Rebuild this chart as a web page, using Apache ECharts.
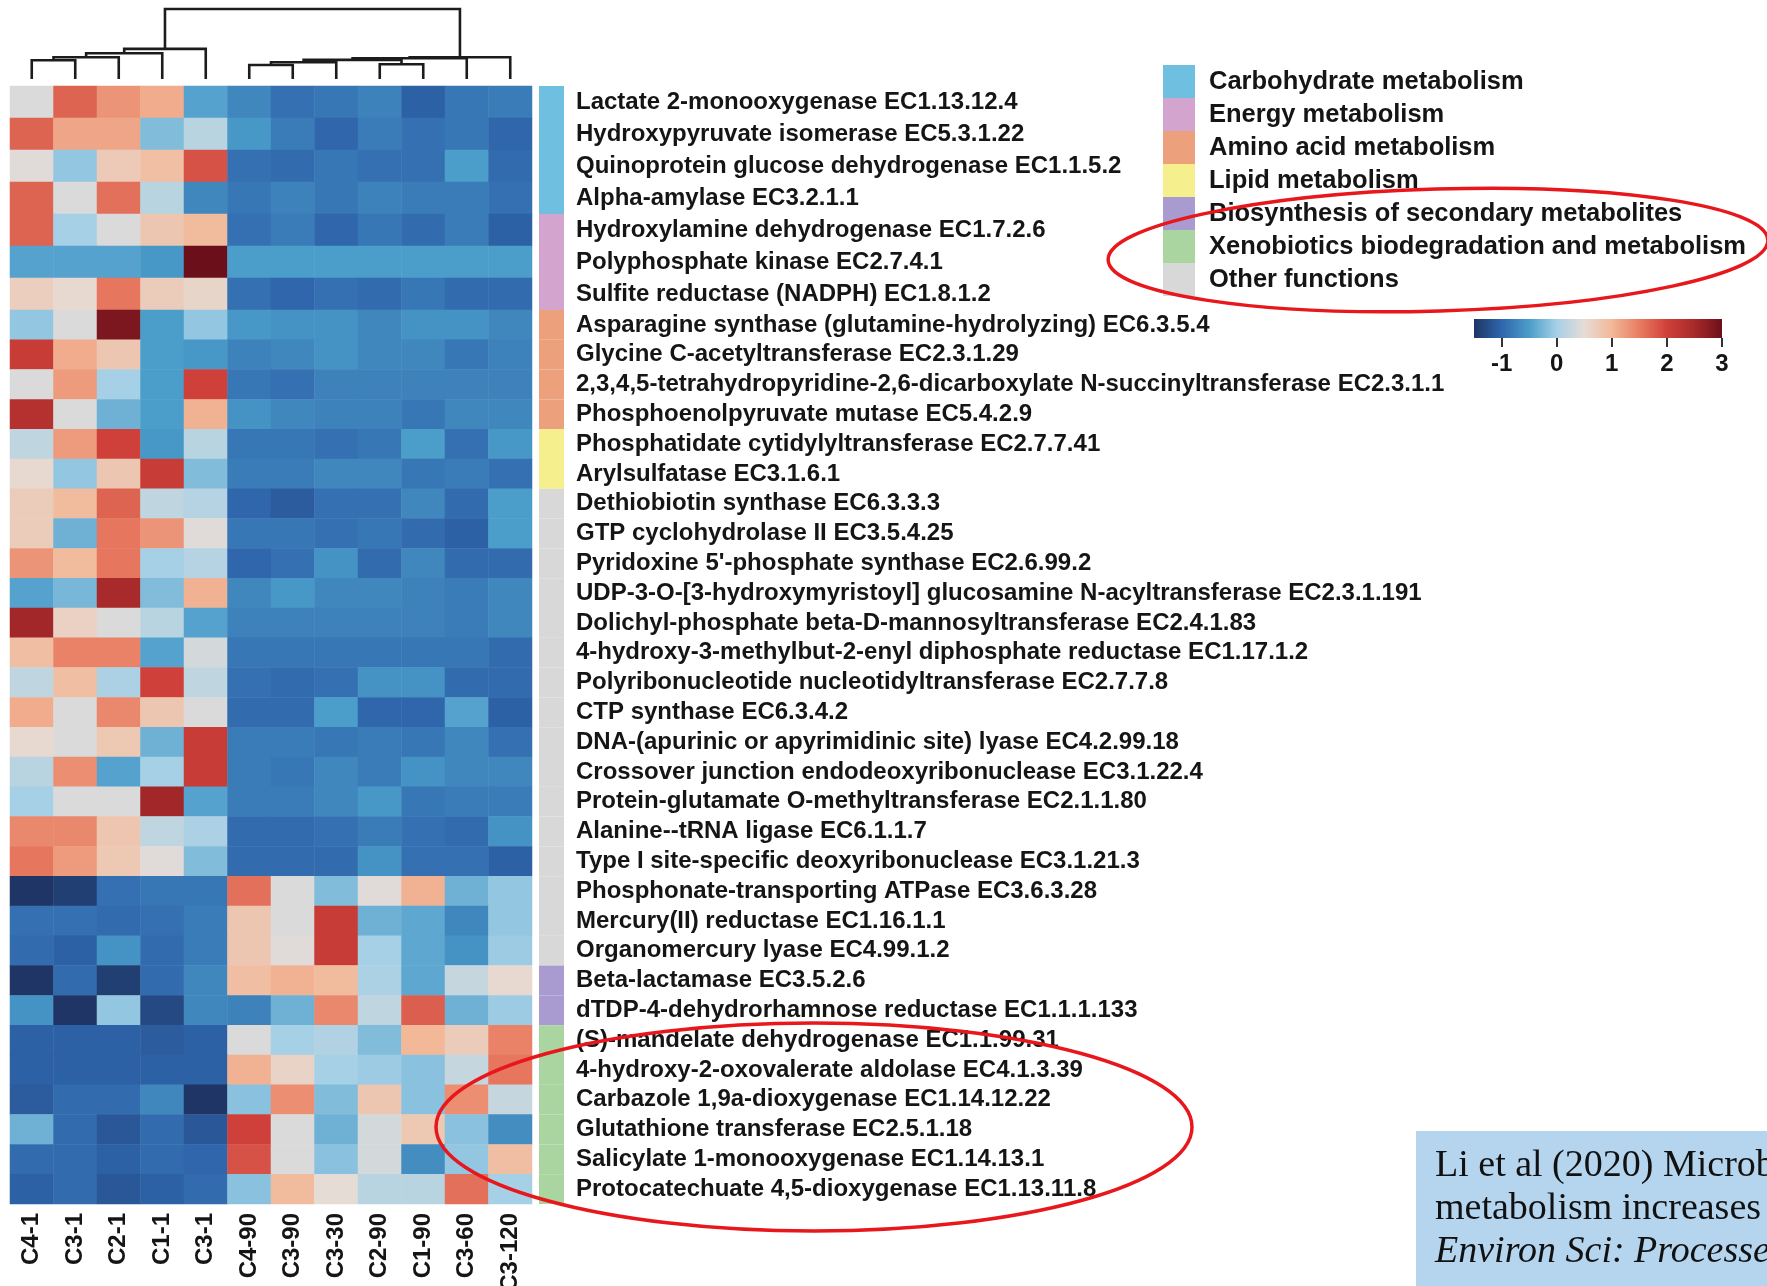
<!DOCTYPE html>
<html><head><meta charset="utf-8">
<script src="https://cdn.jsdelivr.net/npm/echarts@6/dist/echarts.min.js"></script>
<style>html,body{margin:0;padding:0;background:#fff}#c{width:1767px;height:1286px}</style>
</head><body><div id="c"></div>
<script>
// ---------------- DATA ----------------
const sampleLabels = ['C4-1','C3-1','C2-1','C1-1','C3-1','C4-90','C3-90','C3-30','C2-90','C1-90','C3-60','C3-120'];

const functionLabels = [
  'Lactate 2-monooxygenase EC1.13.12.4',
  'Hydroxypyruvate isomerase EC5.3.1.22',
  'Quinoprotein glucose dehydrogenase EC1.1.5.2',
  'Alpha-amylase EC3.2.1.1',
  'Hydroxylamine dehydrogenase EC1.7.2.6',
  'Polyphosphate kinase EC2.7.4.1',
  'Sulfite reductase (NADPH) EC1.8.1.2',
  'Asparagine synthase (glutamine-hydrolyzing) EC6.3.5.4',
  'Glycine C-acetyltransferase EC2.3.1.29',
  '2,3,4,5-tetrahydropyridine-2,6-dicarboxylate N-succinyltransferase EC2.3.1.1',
  'Phosphoenolpyruvate mutase EC5.4.2.9',
  'Phosphatidate cytidylyltransferase EC2.7.7.41',
  'Arylsulfatase EC3.1.6.1',
  'Dethiobiotin synthase EC6.3.3.3',
  'GTP cyclohydrolase II EC3.5.4.25',
  "Pyridoxine 5'-phosphate synthase EC2.6.99.2",
  'UDP-3-O-[3-hydroxymyristoyl] glucosamine N-acyltransferase EC2.3.1.191',
  'Dolichyl-phosphate beta-D-mannosyltransferase EC2.4.1.83',
  '4-hydroxy-3-methylbut-2-enyl diphosphate reductase EC1.17.1.2',
  'Polyribonucleotide nucleotidyltransferase EC2.7.7.8',
  'CTP synthase EC6.3.4.2',
  'DNA-(apurinic or apyrimidinic site) lyase EC4.2.99.18',
  'Crossover junction endodeoxyribonuclease EC3.1.22.4',
  'Protein-glutamate O-methyltransferase EC2.1.1.80',
  'Alanine--tRNA ligase EC6.1.1.7',
  'Type I site-specific deoxyribonuclease EC3.1.21.3',
  'Phosphonate-transporting ATPase EC3.6.3.28',
  'Mercury(II) reductase EC1.16.1.1',
  'Organomercury lyase EC4.99.1.2',
  'Beta-lactamase EC3.5.2.6',
  'dTDP-4-dehydrorhamnose reductase EC1.1.1.133',
  '(S)-mandelate dehydrogenase EC1.1.99.31',
  '4-hydroxy-2-oxovalerate aldolase EC4.1.3.39',
  'Carbazole 1,9a-dioxygenase EC1.14.12.22',
  'Glutathione transferase EC2.5.1.18',
  'Salicylate 1-monooxygenase EC1.14.13.1',
  'Protocatechuate 4,5-dioxygenase EC1.13.11.8'
];

const groupNames = ['Carbohydrate metabolism','Energy metabolism','Amino acid metabolism','Lipid metabolism',
  'Biosynthesis of secondary metabolites','Xenobiotics biodegradation and metabolism','Other functions'];
const groupColors = ['#6ebfe0','#d3a4cd','#eda07c','#f6ef8e','#a99ad0','#aad5a0','#d8d8d8'];
// group index of each function row
const functionGroup = [0,0,0,0, 1,1,1, 2,2,2,2, 3,3, 6,6,6,6,6,6,6,6,6,6,6,6,6,6,6,6, 4,4, 5,5,5,5,5,5];

// z-scores (rows = functions, columns = samples)
const zScores = [
  [0.4, 1.7, 1.3, 1.1, -0.45, -0.7, -0.9, -0.85, -0.75, -1.05, -0.85, -0.8],
  [1.7, 1.15, 1.15, -0.2, 0.15, -0.55, -0.8, -1.0, -0.8, -0.9, -0.85, -1.0],
  [0.45, -0.1, 0.75, 0.9, 1.85, -0.9, -0.95, -0.85, -0.9, -0.9, -0.5, -0.95],
  [1.7, 0.4, 1.6, 0.15, -0.7, -0.85, -0.75, -0.85, -0.75, -0.8, -0.8, -0.9],
  [1.7, 0.0, 0.4, 0.8, 0.95, -0.9, -0.8, -1.0, -0.85, -0.95, -0.8, -1.05],
  [-0.45, -0.45, -0.45, -0.55, 3.0, -0.5, -0.5, -0.5, -0.5, -0.5, -0.5, -0.5],
  [0.7, 0.55, 1.55, 0.72, 0.6, -0.9, -1.0, -0.9, -0.95, -0.85, -0.95, -0.95],
  [-0.1, 0.4, 2.85, -0.5, -0.1, -0.55, -0.6, -0.6, -0.7, -0.6, -0.6, -0.7],
  [2.1, 1.1, 0.8, -0.5, -0.55, -0.75, -0.7, -0.6, -0.7, -0.7, -0.85, -0.75],
  [0.4, 1.25, 0.0, -0.5, 2.0, -0.85, -0.9, -0.75, -0.75, -0.75, -0.75, -0.75],
  [2.35, 0.4, -0.3, -0.5, 1.05, -0.6, -0.7, -0.75, -0.75, -0.85, -0.7, -0.7],
  [0.2, 1.25, 2.0, -0.55, 0.15, -0.85, -0.85, -0.9, -0.85, -0.5, -0.9, -0.55],
  [0.55, -0.1, 0.8, 2.1, -0.2, -0.8, -0.8, -0.7, -0.7, -0.85, -0.8, -0.9],
  [0.72, 0.95, 1.7, 0.2, 0.12, -1.0, -1.1, -0.9, -0.9, -0.7, -0.95, -0.5],
  [0.72, -0.3, 1.55, 1.3, 0.45, -0.85, -0.85, -0.9, -0.85, -0.95, -1.05, -0.5],
  [1.3, 0.95, 1.55, 0.0, 0.12, -1.0, -0.9, -0.6, -0.95, -0.7, -0.95, -0.95],
  [-0.45, -0.25, 2.5, -0.2, 1.05, -0.7, -0.55, -0.7, -0.7, -0.75, -0.8, -0.7],
  [2.55, 0.65, 0.4, 0.15, -0.45, -0.75, -0.75, -0.75, -0.75, -0.75, -0.8, -0.7],
  [0.92, 1.45, 1.45, -0.45, 0.35, -0.85, -0.85, -0.85, -0.85, -0.85, -0.85, -0.95],
  [0.2, 0.92, 0.05, 2.0, 0.2, -0.9, -0.95, -0.9, -0.6, -0.6, -0.95, -0.95],
  [1.1, 0.4, 1.4, 0.8, 0.4, -0.95, -0.95, -0.5, -1.0, -1.0, -0.45, -1.05],
  [0.55, 0.4, 0.78, -0.3, 2.1, -0.8, -0.8, -0.85, -0.8, -0.85, -0.7, -0.9],
  [0.15, 1.35, -0.45, 0.0, 2.1, -0.8, -0.85, -0.7, -0.8, -0.6, -0.7, -0.7],
  [0.0, 0.4, 0.4, 2.55, -0.45, -0.8, -0.8, -0.7, -0.55, -0.85, -0.8, -0.8],
  [1.4, 1.4, 0.82, 0.2, 0.05, -0.95, -0.95, -0.9, -0.8, -0.9, -0.95, -0.6],
  [1.55, 1.25, 0.78, 0.45, -0.2, -0.95, -0.95, -0.95, -0.6, -0.9, -0.9, -1.05],
  [-1.5, -1.4, -0.9, -0.85, -0.85, 1.6, 0.4, -0.2, 0.45, 1.05, -0.3, -0.1],
  [-0.9, -0.9, -0.95, -0.9, -0.8, 0.8, 0.4, 2.1, -0.3, -0.4, -0.7, -0.1],
  [-0.95, -1.05, -0.6, -0.95, -0.8, 0.8, 0.45, 2.1, 0.0, -0.4, -0.6, -0.05],
  [-1.5, -0.95, -1.4, -0.95, -0.7, 0.92, 1.05, 0.95, 0.05, -0.4, 0.25, 0.55],
  [-0.6, -1.5, -0.1, -1.3, -0.7, -0.75, -0.3, 1.4, 0.2, 1.75, -0.3, -0.05],
  [-1.05, -1.05, -1.05, -1.1, -1.05, 0.4, 0.0, 0.1, -0.2, 1.0, 0.72, 1.45],
  [-1.05, -1.05, -1.05, -1.05, -1.05, 1.05, 0.62, 0.0, -0.05, -0.15, 0.25, 1.55],
  [-1.1, -0.95, -0.95, -0.7, -1.5, -0.15, 1.35, -0.2, 0.8, -0.15, 1.35, 0.25],
  [-0.3, -0.95, -1.15, -0.95, -1.15, 2.0, 0.4, -0.3, 0.35, 0.78, -0.15, -0.65],
  [-0.95, -0.95, -1.05, -0.95, -1.0, 1.85, 0.4, -0.15, 0.35, -0.65, -0.1, 0.92],
  [-1.05, -0.95, -1.15, -1.05, -0.95, -0.15, 0.95, 0.5, 0.15, 0.15, 1.6, 0.0]
];

// column dendrogram (hclust style: negative = leaf index+1, positive = merge step)
const dendroMergeA = [-1, 1, 2, 3, -6, 5, -9, 6, 8, 9, 4];
const dendroMergeB = [-2, -3, -4, -5, -7, -8, -10, 7, -11, -12, 10];
const dendroHeight = [18.7, 21.7, 25.7, 30, 14, 16.7, 14.7, 19, 20.7, 21.7, 69.7];

// colour key
const colorMin = -1.5, colorMax = 3;
const colorTicks = [-1, 0, 1, 2, 3];
const colorScale = ['#1f3566','#2f66ac','#4b9dca','#a5d0e6','#e6dcd6','#f2b898','#e87c62','#d0403a','#a82a2a','#6b0f1a'];

// ---------------- LAYOUT ----------------
const FONT = '"Liberation Sans", Arial, sans-serif';
const TXT = '#151515';
const HM_LEFT = 10, HM_W = 522, ANN_LEFT = 539, ANN_W = 25;
const blocks = [
  {from: 0, to: 7, top: 86, height: 224},
  {from: 7, to: 37, top: 310, height: 894}
];

const grid = [], xAxis = [], yAxis = [], series = [];
function addGrid(g){ grid.push(Object.assign({outerBoundsMode: 'none', containLabel: false}, g)); return grid.length - 1; }

// dendrogram
const clusterX = [], clusterH = [];
const nodeX = id => id < 0 ? (-id - 1) : clusterX[id - 1];
const nodeH = id => id < 0 ? 0 : clusterH[id - 1];
const dendroData = dendroHeight.map((h, i) => {
  const a = dendroMergeA[i], b = dendroMergeB[i];
  const xa = nodeX(a), xb = nodeX(b);
  clusterX[i] = (xa + xb) / 2; clusterH[i] = h;
  return [xa, xb, nodeH(a), nodeH(b), h];
});
let gi = addGrid({left: HM_LEFT, top: 9, width: HM_W, height: 70});
xAxis.push({gridIndex: gi, type: 'value', min: -0.5, max: sampleLabels.length - 0.5, show: false});
yAxis.push({gridIndex: gi, type: 'value', min: 0, max: Math.max(...dendroHeight), show: false});
series.push({
  type: 'custom', xAxisIndex: xAxis.length - 1, yAxisIndex: yAxis.length - 1,
  data: dendroData, encode: {x: [0, 1], y: [2, 3, 4]}, silent: true,
  renderItem: (params, api) => {
    const xa = api.value(0), xb = api.value(1), ya = api.value(2), yb = api.value(3), h = api.value(4);
    return {type: 'polyline', shape: {points: [api.coord([xa, ya]), api.coord([xa, h]), api.coord([xb, h]), api.coord([xb, yb])]},
      style: {stroke: '#1c1c1c', lineWidth: 2.6, fill: null}};
  }
});

// heatmap + annotation blocks
const heatSeriesIdx = [];
blocks.forEach((b, bi) => {
  const rows = functionLabels.slice(b.from, b.to);
  const last = bi === blocks.length - 1;
  const g1 = addGrid({left: HM_LEFT, top: b.top, width: HM_W, height: b.height});
  xAxis.push({gridIndex: g1, type: 'category', data: sampleLabels, position: 'bottom',
    axisLine: {show: false}, axisTick: {show: false}, splitLine: {show: false},
    axisLabel: {show: last, interval: 0, rotate: 90, margin: 9, fontFamily: FONT, fontWeight: 'bold', fontSize: 24, color: TXT}});
  yAxis.push({gridIndex: g1, type: 'category', data: rows, inverse: true, show: false});
  const data = [];
  for (let r = b.from; r < b.to; r++) for (let c = 0; c < sampleLabels.length; c++) data.push([c, r - b.from, zScores[r][c]]);
  heatSeriesIdx.push(series.length);
  series.push({type: 'heatmap', xAxisIndex: xAxis.length - 1, yAxisIndex: yAxis.length - 1, data,
    itemStyle: {borderWidth: 0}, emphasis: {disabled: true}, silent: true});

  const g2 = addGrid({left: ANN_LEFT, top: b.top, width: ANN_W, height: b.height});
  xAxis.push({gridIndex: g2, type: 'value', min: 0, max: 1, show: false});
  yAxis.push({gridIndex: g2, type: 'category', data: rows, inverse: true, position: 'right',
    axisLine: {show: false}, axisTick: {show: false},
    axisLabel: {interval: 0, margin: 12, fontFamily: FONT, fontWeight: 'bold', fontSize: 24, color: TXT}});
  series.push({type: 'bar', xAxisIndex: xAxis.length - 1, yAxisIndex: yAxis.length - 1, barCategoryGap: '0%', silent: true,
    data: rows.map((_, k) => ({value: 1, itemStyle: {color: groupColors[functionGroup[b.from + k]]}}))});
});

// group legend
const gl = addGrid({left: 1163, top: 65, width: 32, height: 231});
xAxis.push({gridIndex: gl, type: 'value', min: 0, max: 1, show: false});
yAxis.push({gridIndex: gl, type: 'category', data: groupNames, inverse: true, position: 'right',
  axisLine: {show: false}, axisTick: {show: false},
  axisLabel: {interval: 0, margin: 14, fontFamily: FONT, fontWeight: 'bold', fontSize: 25.5, color: TXT}});
series.push({type: 'bar', xAxisIndex: xAxis.length - 1, yAxisIndex: yAxis.length - 1, barCategoryGap: '0%', silent: true,
  data: groupNames.map((_, k) => ({value: 1, itemStyle: {color: groupColors[k]}}))});

// colour key
const gc = addGrid({left: 1474, top: 319, width: 248, height: 19});
xAxis.push({gridIndex: gc, type: 'value', min: colorMin, max: colorMax,
  axisLine: {show: false}, splitLine: {show: false},
  axisTick: {show: true, customValues: colorTicks, length: 9, lineStyle: {color: '#333', width: 2}},
  axisLabel: {show: true, customValues: colorTicks, formatter: v => String(v), margin: 14,
    fontFamily: FONT, fontWeight: 'bold', fontSize: 24, color: TXT}});
yAxis.push({gridIndex: gc, type: 'value', min: 0, max: 1, show: false});
series.push({type: 'custom', xAxisIndex: xAxis.length - 1, yAxisIndex: yAxis.length - 1, silent: true,
  data: [[colorMin, colorMax]], encode: {x: [0, 1]},
  renderItem: (params, api) => {
    const p0 = api.coord([api.value(0), 1]), p1 = api.coord([api.value(1), 0]);
    const n = colorScale.length;
    return {type: 'rect', shape: {x: p0[0], y: p0[1], width: p1[0] - p0[0], height: p1[1] - p0[1]},
      style: {fill: new echarts.graphic.LinearGradient(0, 0, 1, 0, colorScale.map((c, i) => ({offset: i / (n - 1), color: c})))}};
  }
});

const SERIF = '"Liberation Serif", "Times New Roman", serif';
const chart = echarts.init(document.getElementById('c'), null, {renderer: 'canvas'});
chart.setOption({
  backgroundColor: '#ffffff',
  animation: false,
  grid, xAxis, yAxis, series,
  visualMap: {type: 'continuous', show: false, min: colorMin, max: colorMax, seriesIndex: heatSeriesIdx,
    dimension: 2, inRange: {color: colorScale}},
  graphic: [
    {type: 'rect', z: 50, shape: {x: 1416, y: 1131, width: 400, height: 200}, style: {fill: '#b5d5ee'}},
    {type: 'text', z: 51, x: 1435, y: 1166, style: {text: 'Li et al (2020) Microbial xenobiotic', font: '38px ' + SERIF, fill: '#111', verticalAlign: 'middle'}},
    {type: 'text', z: 51, x: 1435, y: 1209, style: {text: 'metabolism increases with', font: '38px ' + SERIF, fill: '#111', verticalAlign: 'middle'}},
    {type: 'text', z: 51, x: 1435, y: 1252, style: {text: 'Environ Sci: Processes & Impacts', font: 'italic 38px ' + SERIF, fill: '#111', verticalAlign: 'middle'}},
    {type: 'ellipse', z: 60, x: 1438, y: 250, rotation: 0.03, shape: {cx: 0, cy: 0, rx: 330, ry: 61}, style: {fill: null, stroke: '#e8171c', lineWidth: 3.5}},
    {type: 'ellipse', z: 60, x: 814, y: 1127, shape: {cx: 0, cy: 0, rx: 378, ry: 104}, style: {fill: null, stroke: '#e8171c', lineWidth: 3.5}}
  ]
});
</script>
</body></html>
